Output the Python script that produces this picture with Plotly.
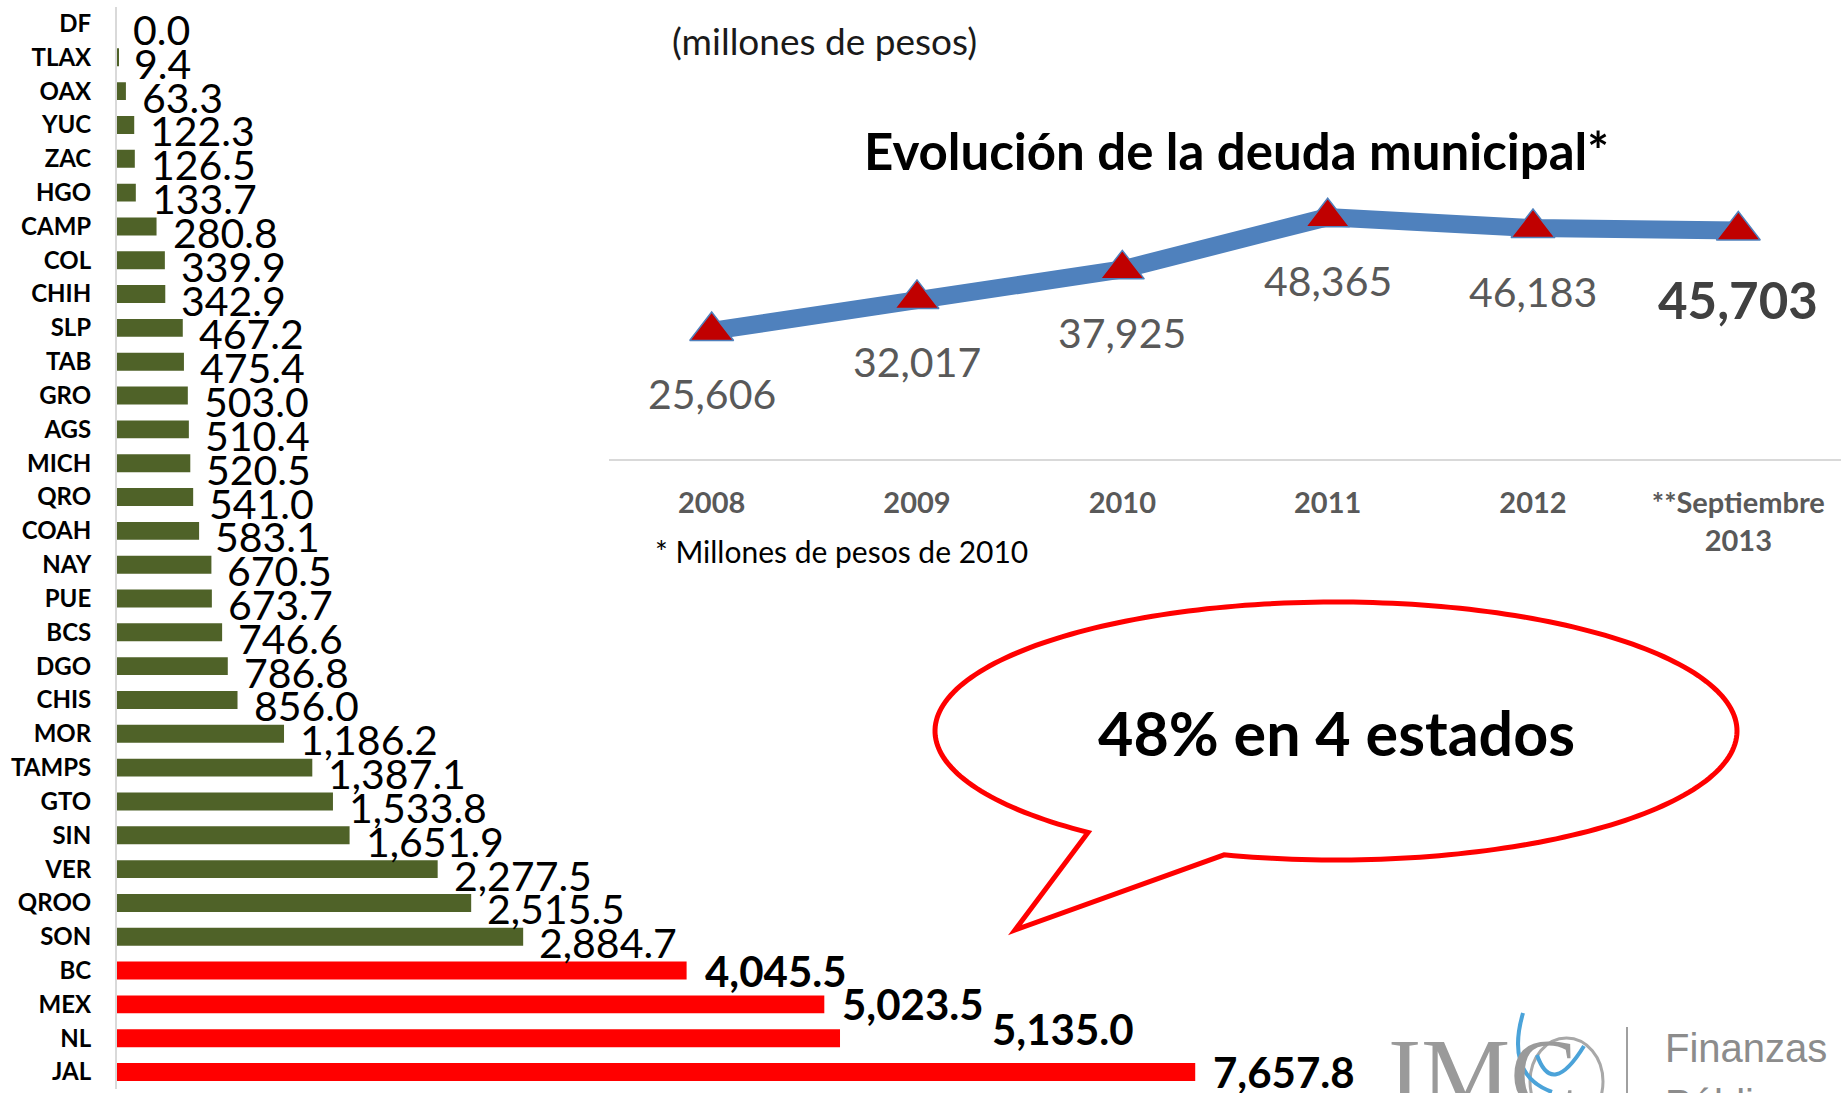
import numpy as np
import plotly.graph_objects as go

W, H = 1841, 1093

# deuda por entidad (millones de pesos)
estados = ["DF", "TLAX", "OAX", "YUC", "ZAC", "HGO", "CAMP", "COL", "CHIH", "SLP",
           "TAB", "GRO", "AGS", "MICH", "QRO", "COAH", "NAY", "PUE", "BCS", "DGO",
           "CHIS", "MOR", "TAMPS", "GTO", "SIN", "VER", "QROO", "SON", "BC", "MEX",
           "NL", "JAL"]
deuda = [0.0, 9.4, 63.3, 122.3, 126.5, 133.7, 280.8, 339.9, 342.9, 467.2,
         475.4, 503.0, 510.4, 520.5, 541.0, 583.1, 670.5, 673.7, 746.6, 786.8,
         856.0, 1186.2, 1387.1, 1533.8, 1651.9, 2277.5, 2515.5, 2884.7, 4045.5, 5023.5,
         5135.0, 7657.8]
destacados = ["BC", "MEX", "NL", "JAL"]

# evolucion de la deuda municipal
periodos = ["2008", "2009", "2010", "2011", "2012", "**Septiembre<br>2013"]
deuda_municipal = [25606, 32017, 37925, 48365, 46183, 45703]

VERDE = "#4F6228"
ROJO = "#FF0000"


def px(x):
    return x / W


def py(y):
    return 1 - y / H


fig = go.Figure()

colores = [ROJO if e in destacados else VERDE for e in estados]
fig.add_trace(go.Bar(
    x=deuda, y=estados, orientation="h", width=0.53,
    marker=dict(color=colores, line=dict(width=0)),
    xaxis="x", yaxis="y", showlegend=False,
))

fig.add_trace(go.Scatter(
    x=periodos, y=deuda_municipal, mode="lines+markers",
    line=dict(color="#4F81BD", width=18),
    marker=dict(symbol="triangle-up", size=38, color="#C00000",
                line=dict(color="#4F81BD", width=1.5)),
    xaxis="x2", yaxis="y2", showlegend=False,
))

annotations = []

# etiquetas de las barras
shift_especial = {"NL": (150, 9)}
for e, v in zip(estados, deuda):
    if e in destacados:
        dx, dy = shift_especial.get(e, (16, 0))
        font = dict(family="Lato", size=42, color="black", weight="bold")
    else:
        dx, dy = 14, -6
        font = dict(family="Lato", size=41, color="black")
    annotations.append(dict(
        x=v, y=e, xref="x", yref="y", text=f"{v:,.1f}", showarrow=False,
        xanchor="left", yanchor="middle", xshift=dx, yshift=dy, font=font,
    ))

# etiquetas de la linea (x por indice de categoria)
for i, v in enumerate(deuda_municipal):
    ultimo = i == len(deuda_municipal) - 1
    annotations.append(dict(
        x=i, y=v, xref="x2", yref="y2", text=f"{v:,}", showarrow=False,
        xanchor="center", yanchor="middle", yshift=-69 if ultimo else -63,
        font=dict(family="Lato", size=51 if ultimo else 41,
                  color="#404040" if ultimo else "#595959",
                  weight="bold" if ultimo else "normal"),
    ))

textos = [
    dict(text="(millones de pesos)", x=px(824), y=py(40), size=37, weight="normal", color="#1a1a1a"),
    dict(text="Evolución de la deuda municipal*", x=px(1236), y=py(150), size=51, weight="bold", color="black"),
    dict(text="48% en 4 estados", x=px(1336), y=py(732), size=61, weight="bold", color="black"),
]
for t in textos:
    annotations.append(dict(
        text=t["text"], x=t["x"], y=t["y"], xref="paper", yref="paper", showarrow=False,
        xanchor="center", yanchor="middle",
        font=dict(family="Lato", size=t["size"], color=t["color"], weight=t["weight"]),
    ))
annotations.append(dict(
    text="* Millones de pesos de 2010", x=px(653), y=py(551), xref="paper", yref="paper",
    showarrow=False, xanchor="left", yanchor="middle",
    font=dict(family="Lato", size=30, color="black"),
))

# logo
annotations += [
    dict(text="IMC", x=px(1386), y=py(1016), xref="paper", yref="paper", showarrow=False,
         xanchor="left", yanchor="top", font=dict(family="Liberation Serif", size=100, color="#9a9a9a")),
    dict(text="Finanzas", x=px(1663), y=py(1048), xref="paper", yref="paper", showarrow=False,
         xanchor="left", yanchor="middle", font=dict(family="Liberation Sans", size=40, color="#8c8c8c")),
    dict(text="Pública", x=px(1663), y=py(1104), xref="paper", yref="paper", showarrow=False,
         xanchor="left", yanchor="middle", font=dict(family="Liberation Sans", size=40, color="#8c8c8c")),
]

# globo de dialogo: elipse + cola en una sola ruta
cx, cy, rx, ry = 1336, 731, 401, 129
a1, a2 = np.deg2rad(128.2), np.deg2rad(106.2 + 360)
th = np.linspace(a1, a2, 240)
xs = cx + rx * np.cos(th)
ys = cy + ry * np.sin(th)
pts = [f"{px(x):.5f},{py(y):.5f}" for x, y in zip(xs, ys)]
path = "M" + " L".join(pts) + f" L{px(1015):.5f},{py(930):.5f} Z"


def ruta(*p):
    s = f"M{px(p[0][0]):.5f},{py(p[0][1]):.5f}"
    for a, b in zip(p[1::2], p[2::2]):
        s += f" Q{px(a[0]):.5f},{py(a[1]):.5f} {px(b[0]):.5f},{py(b[1]):.5f}"
    return s


shapes = [
    dict(type="path", path=path, xref="paper", yref="paper",
         line=dict(color=ROJO, width=5), fillcolor="white", layer="below"),
    # separador del logo
    dict(type="line", x0=px(1627), x1=px(1627), y0=py(1027), y1=py(1093), xref="paper", yref="paper",
         line=dict(color="#a0a0a0", width=2)),
    # "O" del logo
    dict(type="circle", x0=px(1530), x1=px(1603), y0=py(1038), y1=py(1125), xref="paper", yref="paper",
         line=dict(color="#a8a8a8", width=3)),
    # trazos azules del logo
    dict(type="path", xref="paper", yref="paper",
         path=ruta((1523, 1013), (1505, 1075), (1552, 1092)),
         line=dict(color="#4BA3D9", width=4)),
    dict(type="path", xref="paper", yref="paper",
         path=ruta((1537, 1055), (1552, 1098), (1584, 1046)),
         line=dict(color="#4BA3D9", width=4)),
]

fig.update_layout(
    width=W, height=H,
    margin=dict(l=0, r=0, t=0, b=0),
    paper_bgcolor="white", plot_bgcolor="rgba(0,0,0,0)",
    xaxis=dict(domain=[px(117), 1.0], range=[0, 1724 / 0.1408], visible=False),
    yaxis=dict(domain=[0.0037, 0.994], categoryorder="array", categoryarray=estados,
               range=[len(estados) - 0.5, -0.5], showline=True, linecolor="#D9D9D9", linewidth=2,
               showgrid=False, zeroline=False, ticks="", ticklabelstandoff=19,
               tickfont=dict(family="Lato", size=24, color="black", weight="bold")),
    xaxis2=dict(domain=[px(609), 1.0], range=[-0.5, 5.5], type="category", anchor="y2",
                showline=True, linecolor="#D9D9D9", linewidth=2, showgrid=False, zeroline=False,
                ticks="", ticklabelstandoff=17,
                tickfont=dict(family="Lato", size=29, color="#595959", weight="bold")),
    yaxis2=dict(domain=[py(459), py(159)], range=[0, 60000], anchor="x2", visible=False),
    annotations=annotations,
    shapes=shapes,
)

fig.write_html("out.html", config={"displayModeBar": False},
               post_script="document.body.style.margin='0';document.body.style.overflow='hidden';")
